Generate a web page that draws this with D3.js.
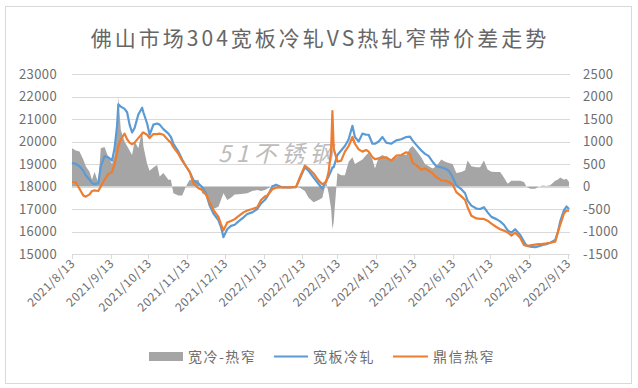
<!DOCTYPE html>
<html>
<head>
<meta charset="utf-8">
<script src="https://cdn.jsdelivr.net/npm/d3@7"></script>
<style>
  body { margin: 0; background: #fff; }
  text { font-family: "Noto Sans CJK SC", "Noto Sans", sans-serif; fill: #6e6e6e; }
</style>
</head>
<body>
<svg id="chart" width="638" height="388"></svg>
<script>
const dates = [
  "2021-08-13","2021-08-16","2021-08-19","2021-08-22","2021-08-24","2021-08-27","2021-08-29","2021-08-31","2021-09-03","2021-09-05",
  "2021-09-08","2021-09-11","2021-09-14","2021-09-16","2021-09-18","2021-09-19","2021-09-21","2021-09-24","2021-09-26","2021-09-28",
  "2021-09-30","2021-10-02","2021-10-05","2021-10-08","2021-10-09","2021-10-12","2021-10-14","2021-10-17","2021-10-20","2021-10-22",
  "2021-10-25","2021-10-29","2021-10-31","2021-11-02","2021-11-06","2021-11-09","2021-11-12","2021-11-15","2021-11-18","2021-11-22",
  "2021-11-25","2021-11-28","2021-12-01","2021-12-04","2021-12-08","2021-12-10","2021-12-12","2021-12-15","2021-12-18","2021-12-21",
  "2021-12-24","2021-12-28","2021-12-31","2022-01-04","2022-01-08","2022-01-11","2022-01-14","2022-01-16","2022-01-20","2022-01-23",
  "2022-01-28","2022-02-03","2022-02-08","2022-02-11","2022-02-15","2022-02-18","2022-02-22","2022-02-26","2022-03-01","2022-03-04",
  "2022-03-06","2022-03-08","2022-03-09","2022-03-10","2022-03-13","2022-03-16","2022-03-19","2022-03-22","2022-03-25","2022-03-27",
  "2022-03-30","2022-04-02","2022-04-05","2022-04-07","2022-04-10","2022-04-12","2022-04-15","2022-04-18","2022-04-21","2022-04-25",
  "2022-04-29","2022-05-03","2022-05-07","2022-05-10","2022-05-12","2022-05-15","2022-05-19","2022-05-22","2022-05-25","2022-05-28",
  "2022-05-31","2022-06-04","2022-06-07","2022-06-10","2022-06-13","2022-06-16","2022-06-20","2022-06-23","2022-06-25","2022-06-28",
  "2022-07-02","2022-07-05","2022-07-08","2022-07-11","2022-07-14","2022-07-18","2022-07-21","2022-07-24","2022-07-27","2022-07-30",
  "2022-08-02","2022-08-06","2022-08-09","2022-08-11","2022-08-14","2022-08-18","2022-08-21","2022-08-24","2022-08-27","2022-08-30",
  "2022-09-03","2022-09-05","2022-09-07","2022-09-10","2022-09-12","2022-09-14"
];

// 宽板冷轧 (left axis)
const coldRolled = [
  19050,19000,18900,18700,18500,18300,18150,18100,18150,18900,
  19350,19300,19150,19700,20700,21650,21550,21450,21300,20750,
  20400,20600,21200,21500,21300,20800,20300,20750,20800,20750,
  20550,20350,20200,19900,19550,19200,18900,18650,18280,18130,
  17980,17700,17150,16800,16500,16200,15750,16100,16250,16300,
  16450,16630,16780,16850,17000,17250,17400,17550,18000,18080,
  17960,17960,17970,18350,18850,18700,18400,18110,17900,18250,
  18450,18700,18850,18850,19400,19600,19800,20100,20700,20200,
  20000,20350,20300,20300,19900,19900,20000,20200,19950,19900,
  20050,20100,20200,20220,20050,19850,19600,19450,19350,19100,
  18900,18850,18800,18700,18420,18050,17880,17700,17370,17150,
  17020,17000,17080,16850,16650,16550,16450,16300,16050,15950,
  16100,15850,15550,15370,15330,15300,15350,15400,15440,15500,
  15620,15950,16450,16950,17110,17000
];

// 鼎信热窄 (left axis)
const hotNarrow = [
  18200,18180,17900,17600,17550,17650,17800,17830,17800,18000,
  18300,18550,18650,19000,19500,19800,20100,20350,20100,19950,
  19880,19950,20150,20350,20400,20300,20150,20330,20330,20350,
  20300,20050,19950,19750,19450,19150,18900,18650,18150,17920,
  17850,17650,17300,16950,16650,16330,16050,16400,16470,16550,
  16680,16850,16930,17000,17080,17400,17550,17600,17880,17950,
  17960,17960,17980,18400,18930,18800,18580,18260,18100,18200,
  18650,19600,21350,19700,19100,19150,19550,19800,20200,19900,
  19650,19550,19620,19550,19300,19220,19250,19280,19300,19150,
  19370,19400,19520,19450,19050,18950,18750,18800,18700,18580,
  18420,18270,18260,18200,18100,17750,17560,17400,17080,16700,
  16580,16560,16560,16480,16350,16200,16100,16040,15960,15820,
  15950,15720,15400,15370,15380,15420,15440,15450,15470,15500,
  15550,15950,16300,16800,16930,16930
];

// 宽冷-热窄 (right axis)
const spread = [
  850,800,780,600,450,330,150,330,80,850,
  880,650,500,700,1300,2000,1250,1000,900,800,
  700,1000,850,1250,900,500,350,420,480,220,
  300,150,150,-150,-200,-200,0,150,130,150,
  -150,-200,-400,-500,-450,-300,-150,-300,-250,-180,
  -170,-160,-150,-100,-80,-100,-80,-50,30,20,
  0,0,0,-30,-100,-250,-350,-300,-250,100,
  -150,-500,-950,-800,300,250,250,550,650,500,
  550,600,700,750,600,400,650,700,650,600,
  650,700,700,850,900,800,650,500,450,400,
  450,600,550,520,500,300,320,360,580,450,
  430,430,580,380,330,320,320,200,60,130,
  130,130,100,0,-50,-50,0,20,10,30,
  130,150,200,150,170,100
];

const leftTicks = [15000,16000,17000,18000,19000,20000,21000,22000,23000];
const rightTicks = [-1500,-1000,-500,0,500,1000,1500,2000,2500];
const monthTicks = ["2021/8/13","2021/9/13","2021/10/13","2021/11/13","2021/12/13","2022/1/13","2022/2/13",
  "2022/3/13","2022/4/13","2022/5/13","2022/6/13","2022/7/13","2022/8/13","2022/9/13"];

const parseDay = d3.timeParse("%Y-%m-%d");
const parseTick = d3.timeParse("%Y/%m/%d");
const rows = dates.map((d, i) => ({ date: parseDay(d), cold: coldRolled[i], hot: hotNarrow[i], diff: spread[i] }));

const svg = d3.select("#chart");

// outer frame
svg.append("rect")
  .attr("x", 5.5).attr("y", 6.5)
  .attr("width", 626).attr("height", 377)
  .attr("fill", "none")
  .attr("stroke", "#d9d9d9");

// plot area
const plotLeft = 72, plotRight = 569, plotTop = 74, plotBottom = 254;

const xScale = d3.scaleTime()
  .domain([parseDay("2021-08-13"), parseDay("2022-09-14")])
  .range([plotLeft, plotRight]);
const yLeft = d3.scaleLinear().domain([15000, 23000]).range([plotBottom, plotTop]);
const yRight = d3.scaleLinear().domain([-1500, 2500]).range([plotBottom, plotTop]);

// gridlines
svg.append("g")
  .selectAll("line")
  .data(leftTicks.slice(1))
  .enter()
  .append("line")
  .attr("x1", plotLeft).attr("x2", plotRight + 1)
  .attr("y1", (d) => Math.round(yLeft(d)) + 0.5)
  .attr("y2", (d) => Math.round(yLeft(d)) + 0.5)
  .attr("stroke", "#d9d9d9");

// title
svg.append("text")
  .attr("x", 320).attr("y", 46)
  .attr("text-anchor", "middle")
  .style("font-size", "21px")
  .style("letter-spacing", "3px")
  .style("fill", "#666")
  .text("佛山市场304宽板冷轧VS热轧窄带价差走势");

// watermark
svg.append("text")
  .attr("x", 218).attr("y", 162)
  .style("font-size", "23px")
  .style("font-style", "italic")
  .style("letter-spacing", "5px")
  .style("fill", "#a0a0a0")
  .style("opacity", 0.7)
  .text("51不锈钢");

// spread area on the right axis
svg.append("path")
  .datum(rows)
  .attr("fill", "#a5a5a5")
  .attr("d", d3.area()
    .x((d) => xScale(d.date))
    .y0(yRight(0))
    .y1((d) => yRight(d.diff)));

// price lines
const line = (key) => d3.line()
  .x((d) => xScale(d.date))
  .y((d) => yLeft(d[key]));

svg.append("path")
  .datum(rows)
  .attr("fill", "none")
  .attr("stroke", "#5b9bd5")
  .attr("stroke-width", 2.2)
  .attr("stroke-linejoin", "round")
  .attr("d", line("cold"));

svg.append("path")
  .datum(rows)
  .attr("fill", "none")
  .attr("stroke", "#ed7d31")
  .attr("stroke-width", 2.2)
  .attr("stroke-linejoin", "round")
  .attr("d", line("hot"));

// bottom axis line and ticks
svg.append("line")
  .attr("x1", plotLeft).attr("x2", plotRight + 1)
  .attr("y1", plotBottom + 0.5).attr("y2", plotBottom + 0.5)
  .attr("stroke", "#d9d9d9");

const xTicks = svg.append("g")
  .selectAll("g")
  .data(monthTicks)
  .enter()
  .append("g");

xTicks.append("line")
  .attr("x1", (d) => Math.round(xScale(parseTick(d))) + 0.5)
  .attr("x2", (d) => Math.round(xScale(parseTick(d))) + 0.5)
  .attr("y1", plotBottom).attr("y2", plotBottom + 5)
  .attr("stroke", "#d9d9d9");

xTicks.append("text")
  .attr("transform", (d) => "translate(" + (xScale(parseTick(d)) + 4) + "," + (plotBottom + 10) + ") rotate(-45)")
  .attr("text-anchor", "end")
  .style("font-size", "12px")
  .style("letter-spacing", "0.6px")
  .text((d) => d);

// left axis labels
svg.append("g")
  .selectAll("text")
  .data(leftTicks)
  .enter()
  .append("text")
  .attr("x", 57)
  .attr("y", (d) => yLeft(d))
  .attr("dy", "0.35em")
  .attr("text-anchor", "end")
  .style("font-size", "13px")
  .style("letter-spacing", "0.4px")
  .text((d) => d);

// right axis labels
svg.append("g")
  .selectAll("text")
  .data(rightTicks)
  .enter()
  .append("text")
  .attr("x", 583)
  .attr("y", (d) => yRight(d))
  .attr("dy", "0.35em")
  .style("font-size", "13px")
  .style("letter-spacing", "0.4px")
  .text((d) => d);

// legend
const legend = svg.append("g");
legend.append("rect")
  .attr("x", 149).attr("y", 352)
  .attr("width", 34).attr("height", 9)
  .attr("fill", "#a5a5a5");
legend.append("line")
  .attr("x1", 274).attr("x2", 308)
  .attr("y1", 356.5).attr("y2", 356.5)
  .attr("stroke", "#5b9bd5").attr("stroke-width", 2.2);
legend.append("line")
  .attr("x1", 393).attr("x2", 428)
  .attr("y1", 356.5).attr("y2", 356.5)
  .attr("stroke", "#ed7d31").attr("stroke-width", 2.2);

const legendText = [
  { x: 188, label: "宽冷-热窄" },
  { x: 313, label: "宽板冷轧" },
  { x: 433, label: "鼎信热窄" }
];
legend.selectAll(".lt")
  .data(legendText)
  .enter()
  .append("text")
  .attr("class", "lt")
  .attr("x", (d) => d.x)
  .attr("y", 357)
  .attr("dy", "0.35em")
  .style("font-size", "14px")
  .style("letter-spacing", "1.5px")
  .text((d) => d.label);
</script>
</body>
</html>
